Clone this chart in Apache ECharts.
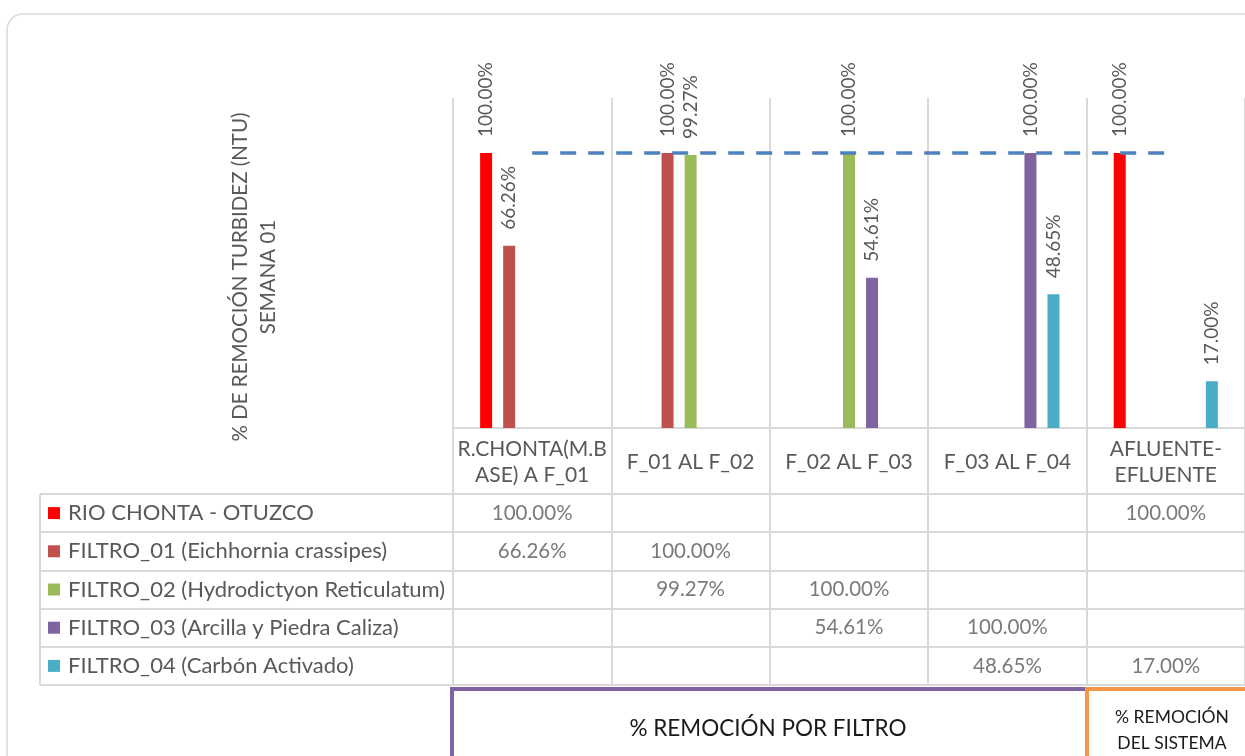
<!DOCTYPE html>
<html>
<head>
<meta charset="utf-8">
<script src="https://cdn.jsdelivr.net/npm/echarts@6/dist/echarts.min.js"></script>
<style>
  html, body { margin: 0; padding: 0; background: #fff; }
  #chart { width: 1245px; height: 756px; }
</style>
</head>
<body>
<div id="chart"></div>
<script>
// categories (as shown in the header row of the data table)
const categories = ['R.CHONTA(M.B\nASE) A F_01', 'F_01 AL F_02', 'F_02 AL F_03', 'F_03 AL F_04', 'AFLUENTE-\nEFLUENTE'];
const seriesNames = [
    'RIO CHONTA - OTUZCO',
    'FILTRO_01 (Eichhornia crassipes)',
    'FILTRO_02 (Hydrodictyon Reticulatum)',
    'FILTRO_03 (Arcilla y Piedra Caliza)',
    'FILTRO_04 (Carbón Activado)',
];
const rioChonta = [100, null, null, null, 100];
const filtro01 = [66.26, 100, null, null, null];
const filtro02 = [null, 99.27, 100, null, null];
const filtro03 = [null, null, 54.61, 100, null];
const filtro04 = [null, null, null, 48.65, 17];
const seriesColors = ['#ff0000', '#c0504d', '#9bbb59', '#8064a2', '#4bacc6'];
const referenceLevel = 100;

const allValues = [rioChonta, filtro01, filtro02, filtro03, filtro04];
const FONT = 'Lato';
const GRAY = '#595959';
const LINE = '#d9d9d9';

const fmtPct = (v) => v.toFixed(2) + '%';

// cells of the data table
const tableCells = [];
allValues.forEach((row, r) => {
    row.forEach((v, c) => {
        if (v !== null) tableCells.push([c, r, v]);
    });
});

// middle series sits on the category centre, so the dashed line hangs off it
const midIdx = Math.floor(allValues.length / 2);

const barSeries = allValues.map((data, i) => ({
    name: seriesNames[i],
    type: 'bar',
    xAxisIndex: 0,
    yAxisIndex: 0,
    data,
    barWidth: 12,
    barGap: '92%',
    itemStyle: { color: seriesColors[i] },
    label: {
        show: true,
        position: 'top',
        rotate: 90,
        align: 'left',
        verticalAlign: 'middle',
        distance: 16,
        color: GRAY,
        fontFamily: FONT,
        fontSize: 19,
        formatter: (p) => fmtPct(p.value),
    },
    markLine: i === midIdx ? {
        silent: true,
        symbol: 'none',
        label: { show: false },
        lineStyle: { color: '#4f81bd', type: [16, 12], width: 3.5 },
        data: [[{ coord: [0, referenceLevel] }, { coord: [categories.length - 1, referenceLevel] }]],
    } : undefined,
}));

const richLegend = { t: { fontFamily: FONT, fontSize: 22, color: GRAY, padding: [0, 0, 0, 8] } };
seriesColors.forEach((c, i) => {
    richLegend['s' + i] = { width: 12, height: 12, backgroundColor: c };
});

const chart = echarts.init(document.getElementById('chart'));
chart.setOption({
    animation: false,
    textStyle: { fontFamily: FONT },
    grid: [
        { left: 453, top: 98, width: 795, height: 330 },
        { left: 453, top: 494, width: 795, height: 191 },
        { left: 40, top: 494, width: 413, height: 191 },
    ],
    xAxis: [
        {
            gridIndex: 0,
            type: 'category',
            data: categories,
            axisLine: { lineStyle: { color: LINE, width: 2 } },
            axisTick: { show: true, length: 66, lineStyle: { color: LINE, width: 2 } },
            splitLine: { show: true, lineStyle: { color: LINE, width: 2 } },
            axisLabel: {
                margin: 34,
                verticalAlign: 'middle',
                color: GRAY,
                fontFamily: FONT,
                fontSize: 21,
                lineHeight: 26,
                interval: 0,
            },
        },
        {
            gridIndex: 1,
            type: 'category',
            data: categories,
            axisLine: { show: false },
            axisTick: { show: false },
            axisLabel: { show: false },
            splitLine: { show: true, lineStyle: { color: LINE, width: 2 } },
        },
        {
            gridIndex: 2,
            type: 'category',
            data: [''],
            axisLine: { show: false },
            axisTick: { show: false },
            axisLabel: { show: false },
            splitLine: { show: true, lineStyle: { color: LINE, width: 2 } },
        },
    ],
    yAxis: [
        { gridIndex: 0, type: 'value', min: 0, max: 120, show: false },
        {
            gridIndex: 1,
            type: 'category',
            inverse: true,
            data: seriesNames,
            axisLine: { show: false },
            axisTick: { show: false },
            axisLabel: { show: false },
            splitLine: { show: true, lineStyle: { color: LINE, width: 2 } },
        },
        {
            gridIndex: 2,
            type: 'category',
            inverse: true,
            data: seriesNames,
            axisLine: { show: false },
            axisTick: { show: false },
            splitLine: { show: true, lineStyle: { color: LINE, width: 2 } },
            axisLabel: {
                inside: true,
                margin: 8,
                align: 'left',
                formatter: (val, idx) => `{s${idx}|}{t|${val}}`,
                rich: richLegend,
            },
        },
    ],
    series: [
        ...barSeries,
        {
            type: 'scatter',
            xAxisIndex: 1,
            yAxisIndex: 1,
            data: tableCells,
            symbolSize: 1,
            itemStyle: { color: 'rgba(0,0,0,0)' },
            silent: true,
            label: {
                show: true,
                position: 'inside',
                color: GRAY,
                fontFamily: FONT,
                fontSize: 20.5,
                formatter: (p) => fmtPct(p.value[2]),
            },
        },
    ],
    graphic: [
        {
            type: 'rect',
            shape: { x: 7, y: 14, width: 1270, height: 790, r: 16 },
            style: { fill: 'none', stroke: LINE, lineWidth: 1.5 },
            silent: true,
        },
        {
            type: 'text',
            x: 254,
            y: 277,
            rotation: Math.PI / 2,
            style: {
                text: '% DE REMOCIÓN TURBIDEZ (NTU)\nSEMANA 01',
                align: 'center',
                verticalAlign: 'middle',
                fill: GRAY,
                font: '20.5px Lato',
                lineHeight: 28,
            },
        },
        {
            type: 'rect',
            shape: { x: 452, y: 689, width: 635, height: 100 },
            style: { fill: 'none', stroke: '#8064a2', lineWidth: 4 },
        },
        {
            type: 'rect',
            shape: { x: 1087, y: 689, width: 200, height: 100 },
            style: { fill: 'none', stroke: '#f79646', lineWidth: 4 },
        },
        {
            type: 'text',
            x: 768,
            y: 729,
            style: {
                text: '% REMOCIÓN POR FILTRO',
                align: 'center',
                verticalAlign: 'middle',
                fill: '#1a1a1a',
                font: '22.5px Lato',
            },
        },
        {
            type: 'text',
            x: 1172,
            y: 730,
            style: {
                text: '% REMOCIÓN\nDEL SISTEMA',
                align: 'center',
                verticalAlign: 'middle',
                fill: '#1a1a1a',
                font: '17.5px Lato',
                lineHeight: 26,
            },
        },
    ],
});
</script>
</body>
</html>
